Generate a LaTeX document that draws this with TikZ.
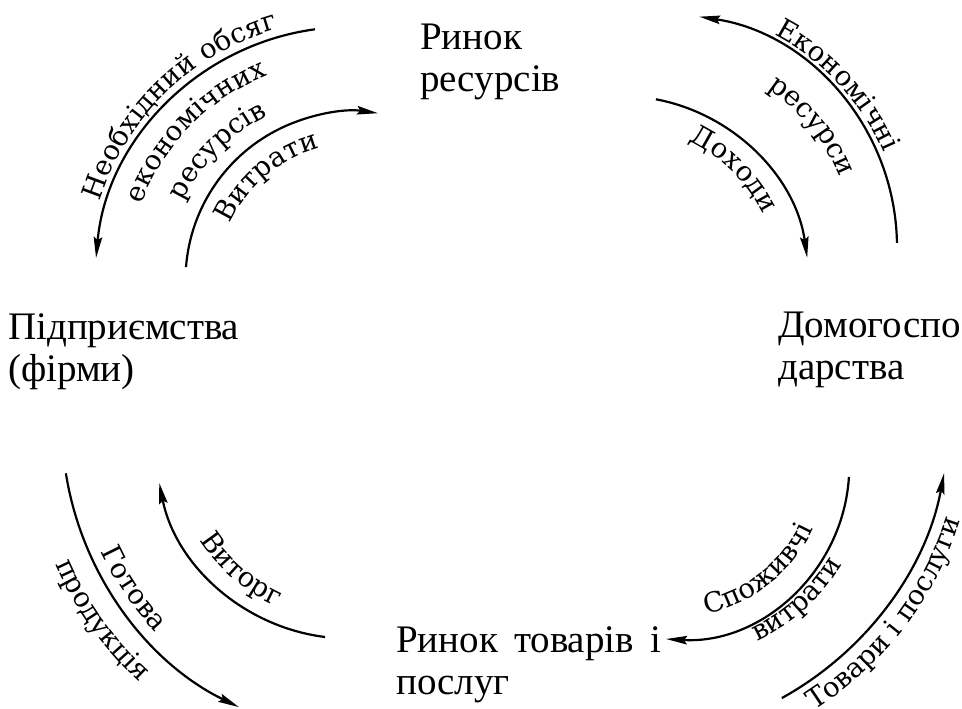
\documentclass[tikz,border=0pt]{standalone}
\usepackage{fontspec}
\setmainfont{Liberation Serif}
\newfontfamily\arcfont{DejaVu Serif}
\usetikzlibrary{arrows.meta,calc,decorations.text}
\newcommand\arclbl{\arcfont\fontsize{27.5pt}{27.5pt}\selectfont}
\begin{document}
\begin{tikzpicture}[x=1pt,y=1pt,
  flow/.style={line width=2.2pt,-{Stealth[length=21pt,width=8.5pt,inset=3pt]}},
  big/.style={font=\fontsize{39pt}{42pt}\selectfont,align=left,anchor=base west,inner sep=0pt},
  lbl/.style={decorate,decoration={text along path,text align=center,text={|\arclbl|#1}}}
]
\useasboundingbox (0,0) rectangle (962,709);
% main nodes (anchored at the baseline of their last line)
\node[big] (rr) at (420,617) {Ринок\\ресурсів};
\node[big] (firms) at (8,327) {Підприємства\\(фірми)};
\node[big] (hh) at (778,329) {Домогоспо\\дарства};
\node[big] (gm) at (396,14) {Ринок\hspace{0.16em} товарів\hspace{0.16em} і\\послуг};
% arc centres
\coordinate (o1) at (349,428);
\coordinate (o2) at (354,429);
\coordinate (o3) at (664,462);
\coordinate (o4) at (621,425);
\coordinate (o5) at (377,285);
\coordinate (o6) at (349,264);
\coordinate (o7) at (676,243);
\coordinate (o8) at (625,295);
% arc starts
\coordinate (s1) at ($(o1)+(97.7:254pt)$);
\coordinate (s2) at ($(o2)+(175.6:168.5pt)$);
\coordinate (s3) at ($(o3)+(1.0:233pt)$);
\coordinate (s4) at ($(o4)+(79.3:188pt)$);
\coordinate (s5) at ($(o5)+(189.0:315pt)$);
\coordinate (s6) at ($(o6)+(262.9:193.5pt)$);
\coordinate (s7) at ($(o7)+(356.4:173.3pt)$);
\coordinate (s8) at ($(o8)+(-61.1:324.5pt)$);
% flows
\draw[flow] (s1) arc[start angle=97.7,end angle=174.8,radius=254pt];
\draw[flow] (s2) arc[start angle=175.6,end angle=81.8,radius=168.5pt];
\draw[flow] (s3) arc[start angle=1.0,end angle=81.3,radius=233pt];
\draw[flow] (s4) arc[start angle=79.3,end angle=8.0,radius=188pt];
\draw[flow] (s5) arc[start angle=189.0,end angle=244.0,radius=315pt];
\draw[flow] (s6) arc[start angle=262.9,end angle=191.3,radius=193.5pt];
\draw[flow] (s7) arc[start angle=356.4,end angle=266.7,radius=173.3pt];
\draw[flow] (s8) arc[start angle=-61.1,end angle=-10.5,radius=324.5pt];
% labels along arcs
\path[lbl={Необхідний обсяг}] ($(o1)+(174:262pt)$) arc[start angle=174,end angle=94,radius=262pt];
\path[lbl={економічних}] ($(o1)+(175.6:221pt)$) arc[start angle=175.6,end angle=95.6,radius=221pt];
\path[lbl={ресурсів}] ($(o1)+(175.3:184pt)$) arc[start angle=175.3,end angle=95.3,radius=184pt];
\path[lbl={Витрати}] ($(o2)+(175.2:136pt)$) arc[start angle=175.2,end angle=85.2,radius=136pt];
\path[lbl={Економічні}] ($(o3)+(82.9:239pt)$) arc[start angle=82.9,end angle=2.9,radius=239pt];
\path[lbl={ресурси}] ($(o3)+(79.2:189pt)$) arc[start angle=79.2,end angle=-0.8,radius=189pt];
\path[lbl={Доходи}] ($(o4)+(90.4:158pt)$) arc[start angle=90.4,end angle=0.4,radius=158pt];
\path[lbl={Готова}] ($(o5)+(184:304pt)$) arc[start angle=184,end angle=244,radius=304pt];
\path[lbl={продукція}] ($(o5)+(185.5:351pt)$) arc[start angle=185.5,end angle=245.5,radius=351pt];
\path[lbl={Виторг}] ($(o6)+(189.2:177pt)$) arc[start angle=189.2,end angle=269.2,radius=177pt];
\path[lbl={Споживчі}] ($(o7)+(263.4:151pt)$) arc[start angle=263.4,end angle=353.4,radius=151pt];
\path[lbl={витрати}] ($(o7)+(272.1:193pt)$) arc[start angle=272.1,end angle=352.1,radius=193pt];
\path[lbl={Товари і послуги}] ($(o8)+(292.5:352pt)$) arc[start angle=292.5,end angle=352.5,radius=352pt];
\end{tikzpicture}
\end{document}
